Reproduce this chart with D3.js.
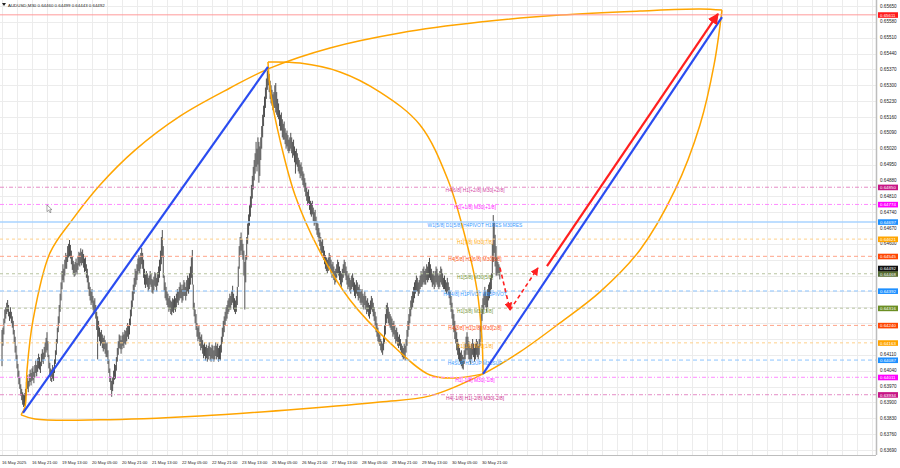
<!DOCTYPE html>
<html><head><meta charset="utf-8">
<script src="https://cdn.jsdelivr.net/npm/d3@7"></script>
<style>body{margin:0;background:#fff}svg{display:block}text{font-family:"Liberation Sans",Arial,sans-serif}</style>
</head><body><svg id="c" width="900" height="468"></svg>
<script>
// ---------- data ----------
const headerText = "AUDUSD,M30  0.64460 0.64499 0.64443 0.64492";
const priceTicks = [0.65650,0.65580,0.65510,0.65440,0.65370,0.65300,0.65230,0.65160,0.65090,0.65020,0.64950,0.64880,0.64810,0.64740,0.64670,0.64600,0.64530,0.64460,0.64390,0.64320,0.64250,0.64180,0.64110,0.64040,0.63970,0.63900,0.63830,0.63760,0.63690];
const timeLabels = ["16 May 2025","16 May 21:00","19 May 13:00","20 May 05:00","20 May 21:00","21 May 13:00","22 May 05:00","22 May 21:00","23 May 13:00","26 May 05:00","26 May 21:00","27 May 13:00","28 May 05:00","28 May 21:00","29 May 13:00","30 May 05:00","30 May 21:00"];
const timeLabelBars = [0,32,64,96,128,160,192,224,256,288,320,352,384,416,448,480,512];
const levelPrices = [0.65611,0.64850,0.64774,0.64697,0.64621,0.64545,0.64468,0.64392,0.64316,0.64240,0.64163,0.64087,0.64011,0.63934];
const levelTexts = ["","H4[6/8] H1[+2/8] M30[+2/8]","H1[+1/8] M30[+1/8]","W1[5/8] D1[5/8] H4PIVOT H1RES M30RES","H1[7/8] M30[7/8]","H4[5/8] H1[6/8] M30[6/8]","H1[5/8] M30[5/8]","H4[4/8] H1PIVOT M30PIVOT","H1[3/8] M30[3/8]","H4[3/8] H1[2/8] M30[2/8]","H1[1/8] M30[1/8]","H4SUP H1SUP M30SUP","H1[-1/8] M30[-1/8]","H4[-1/8] H1[-2/8] M30[-2/8]"];
const levelKinds = ["top","p2","p1","res","o7","r6","g5","pivot","g3","r2","o1","sup","m1","m2"];
const bidPrice = 0.64492;

// M30 bars (high / low), one per bar from the left edge
const barHigh = [
0.64220,0.64230,0.64270,0.64310,0.64320,0.64340,0.64352,0.64330,0.64300,0.64320,
0.64300,0.64280,0.64260,0.64220,0.64190,0.64150,0.64110,0.64070,0.64040,0.64010,
0.63980,0.63960,0.63945,0.63935,0.63940,0.63960,0.63990,0.64020,0.63995,0.64025,
0.64045,0.64030,0.64050,0.64060,0.64035,0.64065,0.64085,0.64065,0.64095,0.64115,
0.64100,0.64080,0.64115,0.64135,0.64120,0.64145,0.64165,0.64185,0.64210,0.64170,
0.64110,0.64075,0.64050,0.64045,0.64065,0.64055,0.64090,0.64130,0.64180,0.64230,
0.64280,0.64330,0.64380,0.64430,0.64480,0.64510,0.64490,0.64530,0.64560,0.64550,
0.64590,0.64600,0.64617,0.64595,0.64570,0.64545,0.64525,0.64510,0.64520,0.64535,
0.64515,0.64545,0.64565,0.64560,0.64580,0.64565,0.64575,0.64555,0.64535,0.64540,
0.64510,0.64490,0.64460,0.64430,0.64410,0.64390,0.64400,0.64370,0.64350,0.64360,
0.64330,0.64300,0.64280,0.64260,0.64230,0.64210,0.64220,0.64200,0.64185,0.64195,
0.64175,0.64160,0.64165,0.64130,0.64090,0.64050,0.64015,0.63995,0.64010,0.64040,
0.64070,0.64065,0.64100,0.64140,0.64170,0.64200,0.64195,0.64175,0.64195,0.64210,
0.64200,0.64220,0.64215,0.64230,0.64250,0.64240,0.64270,0.64310,0.64350,0.64390,
0.64420,0.64450,0.64490,0.64480,0.64510,0.64535,0.64550,0.64540,0.64560,0.64582,
0.64560,0.64530,0.64490,0.64465,0.64480,0.64470,0.64450,0.64460,0.64480,0.64470,
0.64445,0.64440,0.64455,0.64475,0.64470,0.64450,0.64475,0.64500,0.64530,0.64570,
0.64630,0.64661,0.64590,0.64460,0.64430,0.64410,0.64390,0.64380,0.64360,0.64370,
0.64350,0.64345,0.64360,0.64355,0.64370,0.64360,0.64380,0.64400,0.64390,0.64410,
0.64430,0.64420,0.64400,0.64420,0.64440,0.64430,0.64410,0.64440,0.64460,0.64450,
0.64470,0.64500,0.64540,0.64573,0.64420,0.64340,0.64310,0.64290,0.64250,0.64230,
0.64240,0.64210,0.64190,0.64200,0.64175,0.64155,0.64165,0.64145,0.64155,0.64140,
0.64150,0.64165,0.64145,0.64140,0.64155,0.64150,0.64130,0.64150,0.64165,0.64150,
0.64160,0.64140,0.64150,0.64155,0.64190,0.64230,0.64260,0.64280,0.64300,0.64320,
0.64330,0.64350,0.64360,0.64380,0.64370,0.64390,0.64415,0.64380,0.64360,0.64350,
0.64370,0.64410,0.64500,0.64590,0.64630,0.64650,0.64620,0.64600,0.64570,0.64520,
0.64550,0.64630,0.64690,0.64730,0.64770,0.64810,0.64860,0.64900,0.64940,0.64970,
0.65000,0.65050,0.65020,0.65070,0.65050,0.65030,0.65070,0.65120,0.65170,0.65210,
0.65250,0.65290,0.65330,0.65365,0.65380,0.65350,0.65320,0.65300,0.65280,0.65260,
0.65270,0.65300,0.65310,0.65270,0.65240,0.65220,0.65190,0.65170,0.65180,0.65150,
0.65130,0.65140,0.65110,0.65090,0.65100,0.65080,0.65060,0.65070,0.65090,0.65070,
0.65050,0.65060,0.65030,0.65010,0.65020,0.65000,0.64980,0.64970,0.64950,0.64960,
0.64940,0.64920,0.64910,0.64890,0.64870,0.64850,0.64830,0.64840,0.64810,0.64790,
0.64780,0.64790,0.64760,0.64740,0.64750,0.64720,0.64700,0.64690,0.64670,0.64650,
0.64630,0.64610,0.64620,0.64590,0.64570,0.64550,0.64540,0.64530,0.64540,0.64560,
0.64550,0.64530,0.64510,0.64520,0.64500,0.64480,0.64490,0.64510,0.64530,0.64520,
0.64500,0.64480,0.64470,0.64490,0.64510,0.64530,0.64520,0.64500,0.64480,0.64460,
0.64470,0.64450,0.64440,0.64460,0.64470,0.64450,0.64430,0.64420,0.64440,0.64430,
0.64410,0.64420,0.64400,0.64390,0.64400,0.64380,0.64370,0.64390,0.64370,0.64350,
0.64360,0.64340,0.64330,0.64350,0.64370,0.64360,0.64340,0.64320,0.64300,0.64280,
0.64250,0.64230,0.64210,0.64200,0.64180,0.64170,0.64160,0.64190,0.64240,0.64290,
0.64330,0.64340,0.64320,0.64300,0.64290,0.64280,0.64270,0.64250,0.64260,0.64240,
0.64220,0.64230,0.64210,0.64190,0.64200,0.64180,0.64160,0.64150,0.64140,0.64160,
0.64150,0.64180,0.64220,0.64260,0.64290,0.64320,0.64350,0.64370,0.64390,0.64410,
0.64430,0.64440,0.64460,0.64450,0.64430,0.64440,0.64460,0.64480,0.64470,0.64490,
0.64500,0.64480,0.64490,0.64510,0.64500,0.64520,0.64538,0.64510,0.64490,0.64470,
0.64480,0.64460,0.64480,0.64500,0.64490,0.64470,0.64460,0.64480,0.64500,0.64490,
0.64470,0.64450,0.64460,0.64440,0.64430,0.64450,0.64430,0.64410,0.64390,0.64370,
0.64340,0.64310,0.64290,0.64260,0.64230,0.64210,0.64180,0.64160,0.64140,0.64120,
0.64130,0.64110,0.64100,0.64130,0.64160,0.64190,0.64210,0.64190,0.64170,0.64150,
0.64140,0.64160,0.64180,0.64160,0.64140,0.64160,0.64180,0.64170,0.64150,0.64180,
0.64240,0.64290,0.64330,0.64360,0.64380,0.64410,0.64390,0.64370,0.64400,0.64420,
0.64430,0.64450,0.64470,0.64600,0.64727,0.64700,0.64640,0.64590,0.64540,0.64520,
0.64510,0.64499];
const barLow = [
0.64060,0.64150,0.64200,0.64250,0.64270,0.64290,0.64300,0.64280,0.64260,0.64270,
0.64250,0.64230,0.64200,0.64160,0.64120,0.64090,0.64050,0.64010,0.63980,0.63960,
0.63930,0.63910,0.63890,0.63880,0.63885,0.63905,0.63930,0.63960,0.63945,0.63970,
0.63990,0.63975,0.63995,0.64000,0.63985,0.64010,0.64030,0.64015,0.64035,0.64050,
0.64045,0.64030,0.64060,0.64080,0.64070,0.64090,0.64100,0.64120,0.64130,0.64100,
0.64050,0.64015,0.63995,0.63990,0.64005,0.63995,0.64030,0.64070,0.64110,0.64160,
0.64210,0.64250,0.64300,0.64350,0.64400,0.64440,0.64430,0.64460,0.64490,0.64490,
0.64520,0.64540,0.64545,0.64535,0.64510,0.64485,0.64465,0.64455,0.64460,0.64475,
0.64465,0.64485,0.64505,0.64500,0.64515,0.64505,0.64515,0.64495,0.64475,0.64480,
0.64450,0.64430,0.64400,0.64370,0.64350,0.64330,0.64340,0.64310,0.64290,0.64300,
0.64270,0.64220,0.64090,0.64190,0.64170,0.64150,0.64160,0.64140,0.64125,0.64135,
0.64115,0.64100,0.64100,0.64070,0.64030,0.63990,0.63955,0.63925,0.63950,0.63980,
0.64000,0.64005,0.64040,0.64080,0.64110,0.64140,0.64135,0.64115,0.64135,0.64150,
0.64140,0.64160,0.64155,0.64170,0.64190,0.64180,0.64200,0.64240,0.64280,0.64320,
0.64350,0.64380,0.64410,0.64420,0.64440,0.64465,0.64480,0.64470,0.64490,0.64510,
0.64490,0.64450,0.64420,0.64405,0.64420,0.64410,0.64390,0.64400,0.64420,0.64410,
0.64385,0.64380,0.64395,0.64415,0.64410,0.64390,0.64415,0.64430,0.64450,0.64480,
0.64510,0.64540,0.64450,0.64390,0.64360,0.64350,0.64330,0.64320,0.64300,0.64310,
0.64290,0.64285,0.64300,0.64295,0.64310,0.64300,0.64320,0.64340,0.64330,0.64350,
0.64360,0.64360,0.64340,0.64350,0.64370,0.64370,0.64350,0.64370,0.64390,0.64380,
0.64400,0.64420,0.64450,0.64420,0.64310,0.64280,0.64250,0.64220,0.64190,0.64170,
0.64180,0.64150,0.64130,0.64140,0.64115,0.64095,0.64105,0.64085,0.64095,0.64080,
0.64090,0.64105,0.64085,0.64080,0.64095,0.64090,0.64080,0.64090,0.64105,0.64090,
0.64100,0.64080,0.64090,0.64085,0.64120,0.64160,0.64190,0.64210,0.64240,0.64260,
0.64270,0.64290,0.64300,0.64310,0.64310,0.64330,0.64340,0.64310,0.64300,0.64290,
0.64300,0.64330,0.64410,0.64490,0.64550,0.64570,0.64550,0.64530,0.64460,0.64310,
0.64430,0.64530,0.64600,0.64640,0.64680,0.64720,0.64760,0.64800,0.64840,0.64880,
0.64910,0.64940,0.64920,0.64950,0.64870,0.64900,0.64970,0.65020,0.65070,0.65120,
0.65160,0.65200,0.65240,0.65280,0.65300,0.65270,0.65240,0.65220,0.65210,0.65190,
0.65200,0.65200,0.65180,0.65170,0.65160,0.65150,0.65120,0.65100,0.65100,0.65070,
0.65060,0.65060,0.65040,0.65020,0.65030,0.65010,0.65000,0.65010,0.65020,0.65000,
0.64980,0.64990,0.64960,0.64910,0.64950,0.64940,0.64920,0.64910,0.64890,0.64900,
0.64880,0.64860,0.64850,0.64830,0.64810,0.64790,0.64770,0.64780,0.64750,0.64730,
0.64720,0.64730,0.64700,0.64680,0.64690,0.64660,0.64640,0.64630,0.64610,0.64590,
0.64570,0.64550,0.64560,0.64530,0.64510,0.64490,0.64480,0.64470,0.64480,0.64500,
0.64490,0.64470,0.64450,0.64460,0.64440,0.64420,0.64430,0.64450,0.64470,0.64460,
0.64440,0.64420,0.64410,0.64430,0.64450,0.64470,0.64460,0.64440,0.64420,0.64400,
0.64410,0.64390,0.64380,0.64400,0.64410,0.64390,0.64370,0.64360,0.64380,0.64370,
0.64350,0.64360,0.64340,0.64330,0.64340,0.64320,0.64310,0.64330,0.64310,0.64290,
0.64300,0.64280,0.64270,0.64290,0.64310,0.64300,0.64280,0.64260,0.64240,0.64210,
0.64190,0.64170,0.64160,0.64150,0.64130,0.64120,0.64110,0.64130,0.64160,0.64200,
0.64250,0.64270,0.64250,0.64240,0.64230,0.64220,0.64210,0.64190,0.64200,0.64180,
0.64160,0.64170,0.64150,0.64140,0.64150,0.64130,0.64110,0.64100,0.64090,0.64095,
0.64085,0.64120,0.64150,0.64190,0.64220,0.64250,0.64280,0.64310,0.64320,0.64340,
0.64360,0.64380,0.64390,0.64390,0.64370,0.64380,0.64400,0.64410,0.64410,0.64420,
0.64430,0.64420,0.64420,0.64440,0.64430,0.64440,0.64450,0.64440,0.64430,0.64410,
0.64420,0.64400,0.64410,0.64430,0.64420,0.64410,0.64400,0.64410,0.64430,0.64420,
0.64410,0.64400,0.64400,0.64390,0.64380,0.64390,0.64380,0.64360,0.64330,0.64300,
0.64270,0.64240,0.64210,0.64180,0.64160,0.64130,0.64110,0.64090,0.64080,0.64070,
0.64060,0.64050,0.64045,0.64070,0.64090,0.64110,0.64130,0.64110,0.64090,0.64080,
0.64070,0.64090,0.64110,0.64100,0.64080,0.64090,0.64110,0.64100,0.64090,0.64110,
0.64150,0.64210,0.64260,0.64290,0.64310,0.64330,0.64320,0.64300,0.64320,0.64350,
0.64360,0.64380,0.64400,0.64450,0.64520,0.64560,0.64500,0.64460,0.64460,0.64470,
0.64460,0.64443];

// ellipse arcs (bar index, price), each arc runs tip to tip
const outerUpperBars   = [20.3,24.5,26.7,33.1,51.2,74.7,104.5,141.9,189.9,243.2,285.9,349.9,424.5,509.9,595.2,680.5,744.5,768];
const outerUpperPrices = [0.63845,0.63880,0.64043,0.64264,0.64560,0.64705,0.64860,0.65014,0.65164,0.65288,0.65376,0.65465,0.65531,0.65579,0.65610,0.65628,0.65637,0.65632];
const outerLowerBars   = [20.3,35.2,104.5,211.2,317.9,403.2,456.5,513.1,552.5,595.2,637.9,680.5,717.9,744.5,759.5,768];
const outerLowerPrices = [0.63845,0.63827,0.63823,0.63840,0.63871,0.63902,0.63929,0.64026,0.64123,0.64251,0.64388,0.64573,0.64838,0.65125,0.65390,0.65632];
const innerRightBars   = [283.7,317.9,360.5,403.2,445.9,475.7,494.9,506.7,512,513.1];
const innerRightPrices = [0.65403,0.65398,0.65359,0.65270,0.65125,0.64882,0.64617,0.64396,0.64176,0.64026];
const innerLeftBars    = [283.7,286.9,296.5,312.5,337.1,371.2,413.9,456.5,483.2,513.1];
const innerLeftPrices  = [0.65403,0.65257,0.65059,0.64816,0.64582,0.64352,0.64163,0.64021,0.64008,0.64026];

const trendLines = [
  {kind:"blue", b1:22.4, p1:0.63854, b2:283.7, p2:0.65381},
  {kind:"blue", b1:513.1, p1:0.64026, b2:768, p2:0.65601},
  {kind:"red",  b1:581.3, p1:0.64502, b2:763.7, p2:0.65615},
  {kind:"reddash", b1:531.2, p1:0.64494, b2:541.9, p2:0.64308},
  {kind:"reddash", b1:541.9, p1:0.64308, b2:571.7, p2:0.64494}
];
const cursorBar = 48, cursorPrice = 0.64772;

// ---------- styles ----------
const kindStyle = {
  top:{line:"#ff9a9a",text:"#ff0000",box:"#ff1a1a",dash:null,w:1},
  p2:{line:"#e58cc6",text:"#d0309a",box:"#c71585",dash:"4,2,1,2",w:1},
  p1:{line:"#ff8cff",text:"#ff00ff",box:"#ff00ff",dash:"4,2,1,2",w:1},
  res:{line:"#a9d3ff",text:"#1e90ff",box:"#1e90ff",dash:null,w:1.5},
  o7:{line:"#ffd08a",text:"#ffa500",box:"#ffa500",dash:"3,3",w:1},
  r6:{line:"#ffa58a",text:"#ff4500",box:"#ff4500",dash:"4,3",w:1},
  g5:{line:"#b8c4a0",text:"#6b8e23",box:"#556b2f",dash:"3,3",w:1},
  pivot:{line:"#8cc4ff",text:"#1e90ff",box:"#1e90ff",dash:"4,3",w:1},
  g3:{line:"#b8c4a0",text:"#6b8e23",box:"#6b8e23",dash:"3,3",w:1},
  r2:{line:"#ffa58a",text:"#ff4500",box:"#ff4500",dash:"4,3",w:1},
  o1:{line:"#ffd08a",text:"#ffa500",box:"#ffa500",dash:"3,3",w:1},
  sup:{line:"#8cc4ff",text:"#1e90ff",box:"#1e90ff",dash:"4,3",w:1},
  m1:{line:"#ff8cff",text:"#ff00ff",box:"#ff00ff",dash:"4,2,1,2",w:1},
  m2:{line:"#e58cc6",text:"#c71585",box:"#c71585",dash:"4,2,1,2",w:1}
};

// ---------- scales ----------
const W = 900, H = 468, plotR = 876, plotB = 455;
const y = d3.scaleLinear().domain([0.63690,0.65650]).range([450,6]);
const x = d3.scaleLinear().domain([0,512]).range([2,482]);
const svg = d3.select("#c");
svg.append("rect").attr("width",W).attr("height",H).attr("fill","#fff");

// grid
const g = svg.append("g");
g.selectAll("line.hg").data(priceTicks).join("line")
  .attr("x1",0).attr("x2",plotR).attr("y1",d=>Math.round(y(d))+0.5).attr("y2",d=>Math.round(y(d))+0.5)
  .attr("stroke","#ececec").attr("stroke-width",1);
const vgrid = d3.range(0, 930, 16).filter(b=>x(b)<plotR);
g.selectAll("line.vg").data(vgrid).join("line")
  .attr("y1",0).attr("y2",plotB).attr("x1",d=>Math.round(x(d))+0.5).attr("x2",d=>Math.round(x(d))+0.5)
  .attr("stroke","#ececec").attr("stroke-width",1);

// levels
const lv = svg.append("g");
levelPrices.forEach((p,i)=>{
  const s = kindStyle[levelKinds[i]];
  lv.append("line").attr("x1",0).attr("x2",plotR).attr("y1",y(p)).attr("y2",y(p))
    .attr("stroke",s.line).attr("stroke-width",s.w).attr("stroke-dasharray",s.dash);
});

// candles (M30 bars)
svg.append("g").selectAll("line").data(barHigh.map((h,i)=>[i,h,barLow[i]])).join("line")
  .attr("x1",d=>x(d[0])).attr("x2",d=>x(d[0])).attr("y1",d=>y(d[1])).attr("y2",d=>y(d[2]))
  .attr("stroke","#474747").attr("stroke-width",0.95);

// ellipses
const arc = d3.line().x(d=>x(d[0])).y(d=>y(d[1])).curve(d3.curveCatmullRom.alpha(0.5));
[[outerUpperBars,outerUpperPrices],[outerLowerBars,outerLowerPrices],[innerRightBars,innerRightPrices],[innerLeftBars,innerLeftPrices]]
  .forEach(([bs,ps])=>{
    svg.append("path").attr("d",arc(bs.map((b,i)=>[b,ps[i]])))
      .attr("fill","none").attr("stroke","#ffa500").attr("stroke-width",1.5);
  });

// level texts
levelPrices.forEach((p,i)=>{
  if(!levelTexts[i]) return;
  const s = kindStyle[levelKinds[i]];
  lv.append("text").attr("x",475).attr("y",y(p)+5).attr("text-anchor","middle")
    .attr("font-size",4.9).attr("fill",s.text).attr("opacity",0.9).text(levelTexts[i]);
});
lv.raise();

// trend lines
const defs = svg.append("defs");
defs.append("marker").attr("id","ar-red").attr("viewBox","0 0 10 10").attr("refX",9).attr("refY",5)
  .attr("markerWidth",5).attr("markerHeight",5).attr("orient","auto")
  .append("path").attr("d","M0,0L10,5L0,10z").attr("fill","#ff2020");
trendLines.forEach(t=>{
  const c = t.kind==="blue" ? "#2a4cf0" : "#ff2020";
  const l = svg.append("line").attr("x1",x(t.b1)).attr("y1",y(t.p1)).attr("x2",x(t.b2)).attr("y2",y(t.p2))
    .attr("stroke",c).attr("stroke-width",t.kind==="reddash"?1.6:2.2);
  if(t.kind==="reddash") l.attr("stroke-dasharray","4,3").attr("marker-end","url(#ar-red)");
  if(t.kind==="red") l.attr("marker-end","url(#ar-red)");
});

// mouse cursor
svg.append("path").attr("transform",`translate(${x(cursorBar)},${y(cursorPrice)}) scale(0.75)`)
  .attr("d","M0,0L0,9L2.2,7L4,10.5L5.4,9.8L3.7,6.4L6.6,6.4Z").attr("fill","#fff").attr("stroke","#555").attr("stroke-width",0.7);

// frame
svg.append("line").attr("x1",plotR+0.5).attr("x2",plotR+0.5).attr("y1",0).attr("y2",plotB).attr("stroke","#bdbdbd").attr("stroke-width",1.5);
svg.append("line").attr("x1",0).attr("x2",plotR).attr("y1",plotB+0.5).attr("y2",plotB+0.5).attr("stroke","#bdbdbd").attr("stroke-width",1);

// price axis (tick labels that sit under a price box are covered, as in the terminal)
const boxYs = levelPrices.concat([bidPrice]).map(p=>y(p));
const visibleTicks = priceTicks.filter(t=>boxYs.every(by=>Math.abs(y(t)-by)>=4));
svg.append("g").selectAll("text").data(visibleTicks).join("text")
  .attr("x",880).attr("y",d=>y(d)+1.6).attr("font-size",4.6).attr("fill","#222").text(d=>d.toFixed(5));
// time axis
svg.append("g").selectAll("text").data(timeLabels).join("text")
  .attr("x",(d,i)=>x(timeLabelBars[i])).attr("y",464).attr("font-size",4.2).attr("fill","#222").text(d=>d);

// price boxes
levelPrices.forEach((p,i)=>{
  const s = kindStyle[levelKinds[i]];
  svg.append("rect").attr("x",878).attr("y",y(p)-2.6).attr("width",20).attr("height",5.6).attr("fill",s.box);
  svg.append("text").attr("x",880).attr("y",y(p)+1.8).attr("font-size",4.4).attr("fill","#fff").text(p.toFixed(5));
});
svg.append("rect").attr("x",878).attr("y",y(bidPrice)-2.6).attr("width",20).attr("height",5.6).attr("fill","#111");
svg.append("text").attr("x",880).attr("y",y(bidPrice)+1.8).attr("font-size",4.4).attr("fill","#fff").text(bidPrice.toFixed(5));

// header
svg.append("path").attr("d","M2,3L6,3L4,6z").attr("fill","#222");
svg.append("text").attr("x",8).attr("y",7).attr("font-size",4.4).attr("fill","#222").text(headerText);
</script></body></html>
